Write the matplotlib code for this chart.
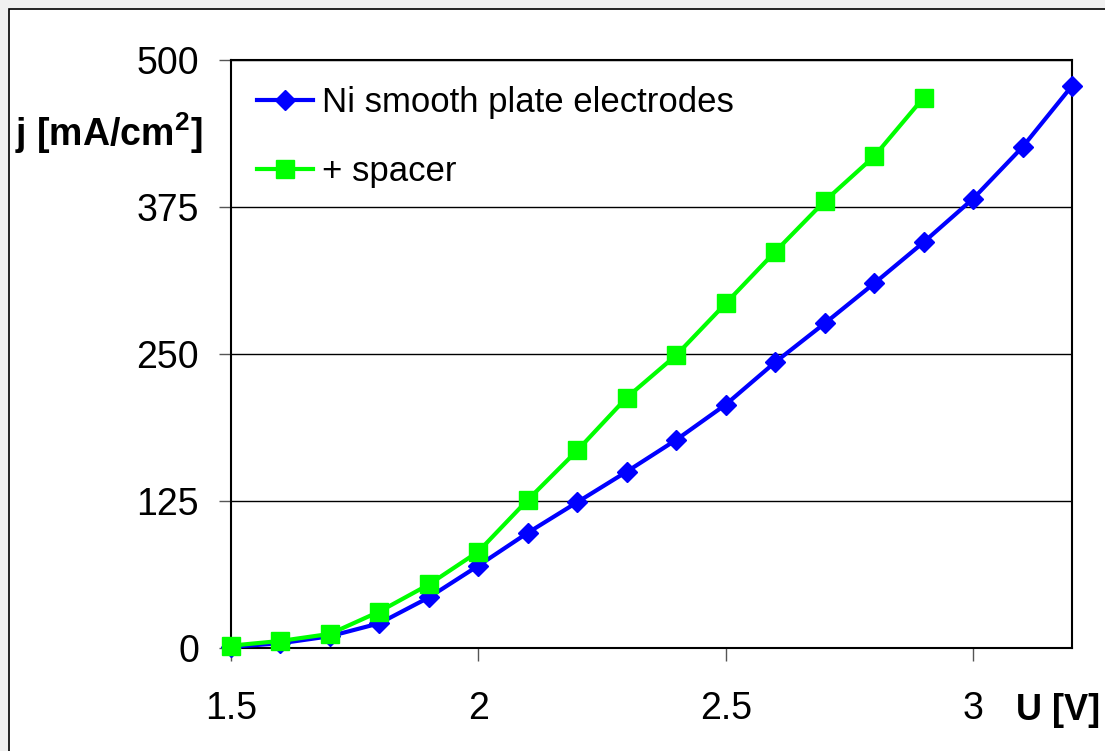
import matplotlib
matplotlib.use("Agg")
import matplotlib.pyplot as plt
from matplotlib.patches import Rectangle

plt.rcParams["font.family"] = ["Liberation Sans", "DejaVu Sans"]
plt.rcParams["mathtext.fontset"] = "custom"
plt.rcParams["mathtext.rm"] = "Liberation Sans"
plt.rcParams["mathtext.bf"] = "Liberation Sans:bold"

# data
voltage_ni = [1.5, 1.6, 1.7, 1.8, 1.9, 2.0, 2.1, 2.2, 2.3, 2.4, 2.5,
              2.6, 2.7, 2.8, 2.9, 3.0, 3.1, 3.2]
current_ni = [1, 4, 10, 21, 43, 70, 98, 124, 150, 177, 207,
              243, 276, 310, 345, 382, 426, 478]

voltage_spacer = [1.5, 1.6, 1.7, 1.8, 1.9, 2.0, 2.1, 2.2, 2.3, 2.4,
                  2.5, 2.6, 2.7, 2.8, 2.9]
current_spacer = [2, 6, 12, 31, 54, 82, 126, 168, 213, 249,
                  293, 337, 380, 418, 468]

x_ticks = [1.5, 2.0, 2.5, 3.0]
x_tick_labels = ["1.5", "2", "2.5", "3"]
y_ticks = [0, 125, 250, 375, 500]

W, H = 1105, 751
fig = plt.figure(figsize=(W / 100, H / 100), dpi=100)
fig.patch.set_facecolor("#f0f0f0")

# white chart area with a thin black frame
fig.patches.append(Rectangle((9 / W, -0.01), 1.0, (H - 9) / H + 0.01,
                             transform=fig.transFigure, facecolor="white",
                             edgecolor="black", linewidth=1.2, zorder=-5))

ax = fig.add_axes([231 / W, (H - 648) / H, (1072 - 231) / W, (648 - 60) / H])
ax.set_facecolor("white")

ax.plot(voltage_ni, current_ni, color="#0000ff", linewidth=3,
        marker="D", markersize=10.5, label="Ni smooth plate electrodes",
        clip_on=False, zorder=3)
ax.plot(voltage_spacer, current_spacer, color="#00ff00", linewidth=3,
        marker="s", markersize=13.5, label="+ spacer", clip_on=False, zorder=4)

ax.set_xlim(1.5, 3.2)
ax.set_ylim(0, 500)
ax.set_xticks(x_ticks)
ax.set_xticklabels(x_tick_labels)
ax.set_yticks(y_ticks)
ax.grid(axis="y", color="black", linewidth=1)
ax.set_axisbelow(True)

for side in ["left", "bottom", "top", "right"]:
    ax.spines[side].set_color("black")
    ax.spines[side].set_linewidth(1.5)

ax.tick_params(axis="both", direction="out", length=9, width=1,
               color="#555555", labelsize=27)
ax.tick_params(axis="y", pad=14)
ax.tick_params(axis="x", pad=22)

fig.text(15 / W, (H - 133) / H, r"j [mA/cm$^{\mathbf{2}}$]", fontsize=27,
         fontweight="bold", ha="left", va="center")
fig.text(1100 / W, (H - 710) / H, "U [V]", fontsize=26,
         fontweight="bold", ha="right", va="center")

leg = ax.legend(loc="upper left", bbox_to_anchor=(26 / 841, 1 - 26 / 588),
                frameon=False, fontsize=25, handlelength=1.6,
                handletextpad=0.26, labelspacing=1.04, borderaxespad=0,
                borderpad=0)

fig.savefig("out.png", dpi=100, facecolor=fig.get_facecolor())
